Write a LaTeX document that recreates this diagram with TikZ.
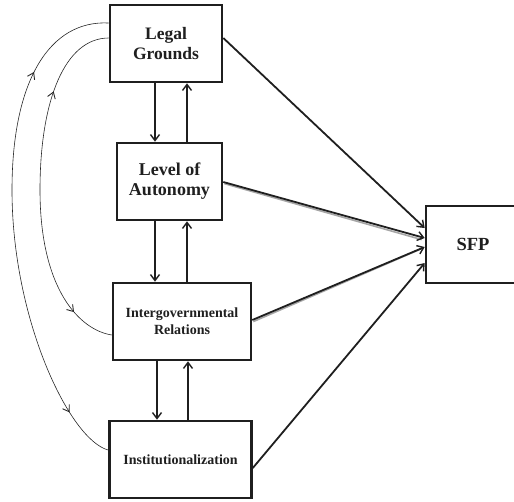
\documentclass[tikz,border=0pt]{standalone}
\usepackage{fontspec}
\setmainfont{Liberation Serif}
\usetikzlibrary{arrows.meta,decorations.markings}
\tikzset{mybarb/.tip={Straight Barb[length=6pt,width=8pt,line width=0.9pt]}}
\begin{document}
\begin{tikzpicture}[x=1pt,y=-1pt,
  box/.style={draw=black!88, line width=2.6pt, fill=white, align=center, inner sep=0pt,
    font=\bfseries, text=black!88},
  conn/.style={line width=1.8pt, draw=black!88, -{Straight Barb[length=6pt,width=9pt,line width=1.4pt]}},
  shadowline/.style={line width=1.6pt, draw=black!35},
  curve/.style={line width=0.6pt, draw=black!85}
]
\useasboundingbox (0,0) rectangle (514,501);
\node[box, minimum width=112pt, minimum height=77pt, font=\bfseries\fontsize{17.5}{20}\selectfont] (LG) at (166,43.5) {Legal\\Grounds};
\node[box, minimum width=105pt, minimum height=77pt, font=\bfseries\fontsize{18}{20}\selectfont] (LA) at (169.5,181.5) {Level of\\Autonomy};
\node[box, minimum width=138pt, minimum height=77pt, font=\bfseries\fontsize{14}{17}\selectfont] (IR) at (182,321.5) {Intergovernmental\\Relations};
\node[box, minimum width=142pt, minimum height=77pt, font=\bfseries\fontsize{14}{17}\selectfont] (IN) at (180.5,459.5) {Institutionalization};
\node[box, minimum width=94pt, minimum height=77pt, font=\bfseries\fontsize{18.5}{22}\selectfont] (SFP) at (473,244.5) {SFP};

% vertical arrows
\draw[conn] (155,0 |- LG.south) -- (155,0 |- LA.north);
\draw[conn] (187,0 |- LA.north) -- (187,0 |- LG.south);
\draw[conn] (155,0 |- LA.south) -- (155,0 |- IR.north);
\draw[conn] (187,0 |- IR.north) -- (187,0 |- LA.south);
\draw[conn] (157,0 |- IR.south) -- (157,0 |- IN.north);
\draw[conn] (188,0 |- IN.north) -- (188,0 |- IR.south);

% arrows to SFP
\coordinate (s1) at (SFP.west |- 0,228);
\coordinate (s2) at (SFP.west |- 0,238);
\coordinate (s3) at (SFP.west |- 0,247);
\coordinate (s4) at (SFP.west |- 0,263);
\draw[shadowline] ([shift={(1,1.6)}]LA.east |- 0,182) -- ([shift={(-3,1.6)}]s2);
\draw[shadowline] ([shift={(1,1.6)}]IR.east |- 0,320) -- ([shift={(-3,1.6)}]s3);
\draw[conn] (LG.east |- 0,38) -- (s1);
\draw[conn] (LA.east |- 0,182) -- (s2);
\draw[conn] (IR.east |- 0,320) -- (s3);
\draw[conn] (IN.east |- 0,468) -- (s4);

% curved arrows on the left
\draw[curve, postaction={decorate}, decoration={markings,
    mark=at position 95pt with {\arrowreversed{mybarb}},
    mark=at position -55pt with {\arrow{mybarb}}}]
  (LG.west |- 0,23) .. controls (50,20) and (12,80) .. (12,190)
  .. controls (12,320) and (70,440) .. (IN.west |- 0,450);
\draw[curve, postaction={decorate}, decoration={markings,
    mark=at position 82pt with {\arrowreversed{mybarb}},
    mark=at position -45pt with {\arrow{mybarb}}}]
  (LG.west |- 0,38) .. controls (65,38) and (40,100) .. (40,190)
  .. controls (40,290) and (80,330) .. (IR.west |- 0,335);
\end{tikzpicture}
\end{document}
